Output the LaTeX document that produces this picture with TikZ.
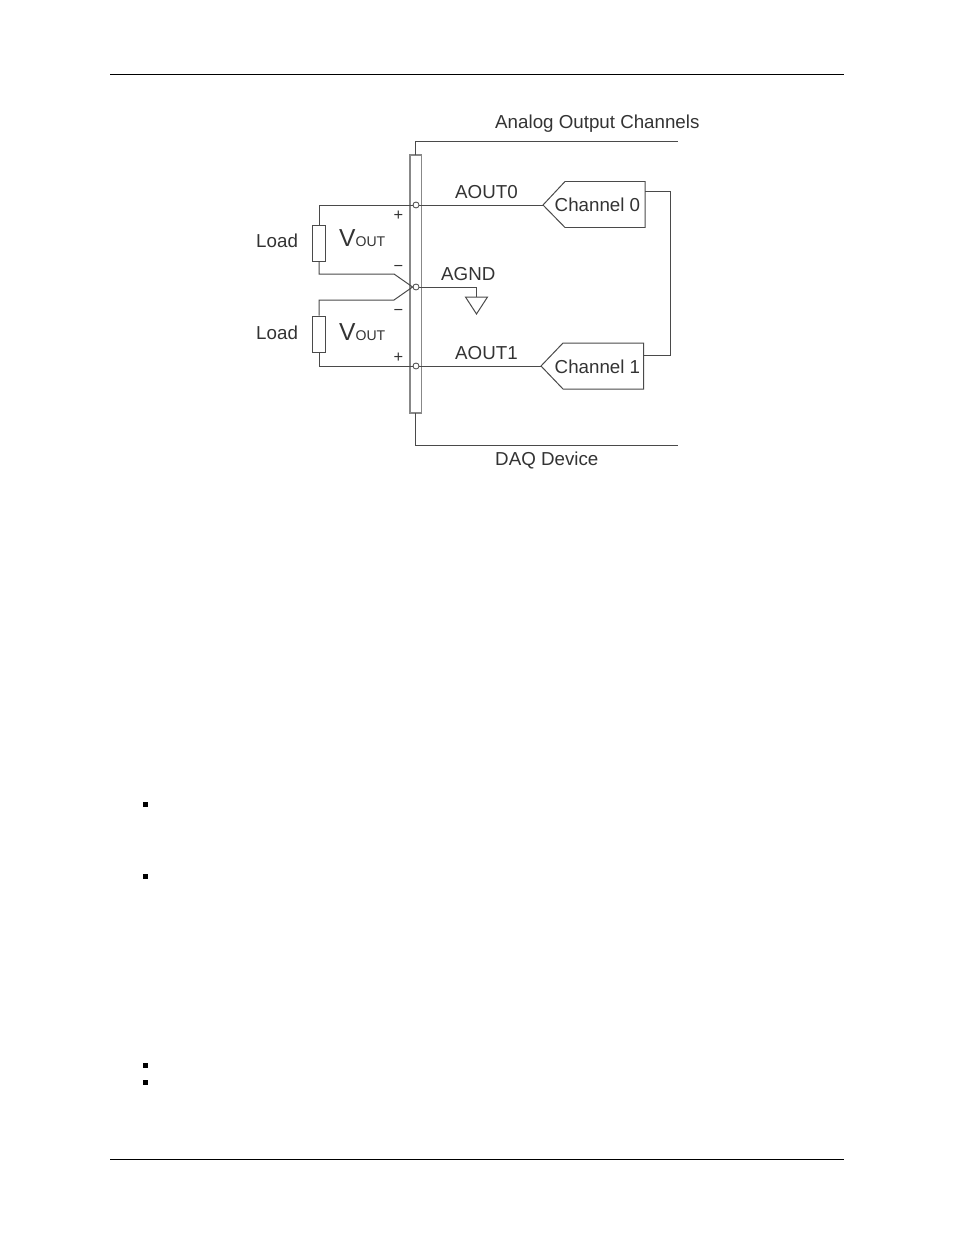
\documentclass[tikz,border=0pt]{standalone}
\usepackage{fontspec}
\setmainfont{Liberation Sans}
\definecolor{wire}{HTML}{4A4A4A}
\definecolor{strip}{HTML}{888888}
\definecolor{ink}{HTML}{333333}
\tikzset{
  lbl/.style={text=ink,font=\fontsize{16}{19}\selectfont,inner sep=0pt},
  sgn/.style={text=ink,font=\fontsize{14}{16}\selectfont,inner sep=0pt},
  term/.style={draw=wire,circle,fill=white,inner sep=0pt,minimum size=0.18cm,line width=0.7pt},
  res/.style={draw=wire,fill=white,inner sep=0pt,minimum width=0.39cm,minimum height=1.08cm,line width=0.85pt},
  blt/.style={fill=black,inner sep=0pt,minimum size=0.15cm},
  wr/.style={draw=wire,line width=0.85pt},
}
\begin{document}
\begin{tikzpicture}[x=0.03cm,y=-0.03cm]
\useasboundingbox (0,0) rectangle (954,1235);

% page rules
\coordinate (hl) at (110,74.5);
\coordinate (hr) at (844,74.5);
\coordinate (fl) at (110,1159.5);
\coordinate (fr) at (844,1159.5);
\path[draw,line width=0.7pt] (hl) -- (hr);
\path[draw,line width=0.7pt] (fl) -- (fr);

% bullets
\node[blt] (b0) at (145,804) {};
\node[blt] (b1) at (145,876) {};
\node[blt] (b2) at (145,1065) {};
\node[blt] (b3) at (145,1082) {};

% device outline
\node[draw=strip,inner sep=0pt,line width=1pt,minimum width=0.345cm,minimum height=7.74cm] (bar) at (415.75,284) {};
\coordinate (tr) at (678,141);
\coordinate (br) at (678,445);
\path[wr] (415,155) |- (tr);
\path[wr] (415,413) |- (br);

% terminals and loads
\node[term] (t0) at (416,205) {};
\node[term] (tg) at (416,287) {};
\node[term] (t1) at (416,366) {};
\node[res] (r0) at (319,243) {};
\node[res] (r1) at (319,334) {};

\coordinate (k0) at (394,274);
\coordinate (k1) at (394,300);
\path[wr] (t0) -| (r0.north);
\path[wr] (r0.south) |- (k0) -- (tg.west);
\path[wr] (tg.west) -- (k1) -| (r1.north);
\path[wr] (r1.south) |- (t1);

% ground
\coordinate (g) at (476.5,297);
\coordinate (gl) at (465.5,297);
\coordinate (gr) at (487.5,297);
\coordinate (gb) at (476.5,314);
\path[wr] (tg) -| (g);
\path[wr] (gl) -- (gr) -- (gb) -- cycle;

% channels
\coordinate (c0) at (543,205);
\coordinate (c1) at (541,366);
\path[wr] (t0) -- (c0);
\path[wr] (t1) -- (c1);
\path[wr] (c0) -- (565,181.5) -- (645,181.5) -- (645,227.5) -- (565,227.5) -- cycle;
\path[wr] (c1) -- (563,343) -- (643.5,343) -- (643.5,389) -- (563,389) -- cycle;
\node[lbl,anchor=west] (ch0) at (554.5,204.5) {Channel 0};
\node[lbl,anchor=west] (ch1) at (554.5,366.5) {Channel 1};
\coordinate (p0) at (645,191);
\coordinate (p1) at (643.5,355);
\coordinate (j0) at (670,191);
\path[wr] (p0) -- (j0) |- (p1);

% labels
\node[lbl,anchor=west] (title) at (495,124) {Analog Output Channels};
\node[lbl,anchor=west] (daq) at (495,460.5) {DAQ Device};
\node[lbl,anchor=west] (a0) at (455,192.5) {AOUT0};
\node[lbl,anchor=west] (a1) at (455,353) {AOUT1};
\node[lbl,anchor=west] (ag) at (441,274) {AGND};
\node[lbl,anchor=west] (l0) at (256,241) {Load};
\node[lbl,anchor=west] (l1) at (256,333) {Load};
\node[lbl,anchor=west] (v0) at (339,238) {{\fontsize{21}{24}\selectfont V}{\fontsize{12}{14}\selectfont OUT}};
\node[lbl,anchor=west] (v1) at (339,332.5) {{\fontsize{21}{24}\selectfont V}{\fontsize{12}{14}\selectfont OUT}};
\node[sgn] (s0) at (398.5,215.5) {+};
\node[sgn] (s1) at (398.5,268) {\textminus};
\node[sgn] (s2) at (398.5,312) {\textminus};
\node[sgn] (s3) at (398.5,357.5) {+};
\end{tikzpicture}
\end{document}
